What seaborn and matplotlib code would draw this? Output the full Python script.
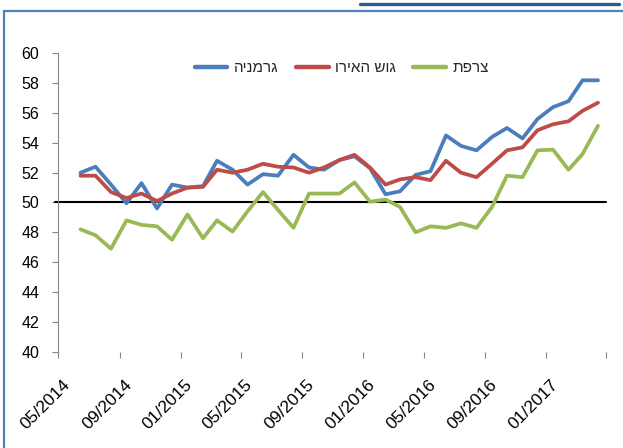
import numpy as np
import pandas as pd
import matplotlib
matplotlib.use("Agg")
import matplotlib.pyplot as plt
import matplotlib.dates as mdates
import matplotlib.transforms as mtransforms
from matplotlib.lines import Line2D
import seaborn as sns

# ---- data ----
series_names = ["גרמניה", "גוש האירו", "צרפת"]
first_month = "2014-06"
n_months = 35
germany = [52.0, 52.4, 51.2, 49.95, 51.3, 49.6, 51.2, 51.0, 51.1, 52.8,
           52.2, 51.2, 51.9, 51.8, 53.2, 52.35, 52.2, 52.85, 53.1, 52.3,
           50.55, 50.75, 51.85, 52.1, 54.5, 53.8, 53.5, 54.4, 55.0, 54.3,
           55.6, 56.4, 56.8, 58.2, 58.2]
eurozone = [51.8, 51.8, 50.7, 50.3, 50.6, 50.1, 50.6, 51.0, 51.05, 52.2,
            52.0, 52.2, 52.6, 52.4, 52.35, 52.0, 52.35, 52.85, 53.2, 52.35,
            51.2, 51.55, 51.7, 51.5, 52.8, 52.0, 51.7, 52.6, 53.5, 53.7,
            54.85, 55.25, 55.45, 56.15, 56.7]
france = [48.2, 47.8, 46.9, 48.8, 48.5, 48.4, 47.5, 49.2, 47.6, 48.8,
          48.05, 49.4, 50.7, 49.5, 48.3, 50.6, 50.6, 50.6, 51.35, 50.05,
          50.2, 49.7, 48.0, 48.4, 48.3, 48.6, 48.3, 49.7, 51.8, 51.7,
          53.5, 53.55, 52.2, 53.25, 55.15]
reference_level = 50
x_tick_labels = ["05/2014", "09/2014", "01/2015", "05/2015", "09/2015",
                 "01/2016", "05/2016", "09/2016", "01/2017", ""]
y_ticks = [40, 42, 44, 46, 48, 50, 52, 54, 56, 58, 60]

colors = ["#4A7EBB", "#BE4B48", "#98B954"]


def rtl(s):
    # matplotlib renders left-to-right; reverse for correct visual Hebrew order
    return s[::-1]


dates = pd.date_range(first_month, periods=n_months, freq="MS") + pd.Timedelta(days=14)
df = pd.concat([
    pd.DataFrame({"date": dates, "value": vals, "series": name})
    for name, vals in zip(series_names, [germany, eurozone, france])
])

sns.set_style("white")
plt.rcParams["font.family"] = ["Liberation Sans", "DejaVu Sans"]

fig = plt.figure(figsize=(6.23, 4.48), dpi=100)
ax = fig.add_axes([58 / 623, 1 - 351.5 / 448, (606 - 58) / 623, (351.5 - 53.5) / 448])

sns.lineplot(data=df, x="date", y="value", hue="series", hue_order=series_names,
             palette=colors, linewidth=2.7, legend=False, ax=ax)
ax.axhline(reference_level, color="black", linewidth=1.5, zorder=1,
           xmin=-0.005, xmax=1.0, clip_on=False)

ax.set_ylim(40, 60)
ax.set_yticks(y_ticks)
ax.set_yticklabels([str(t) for t in y_ticks])
ax.set_xlim(pd.Timestamp("2014-05-01"), pd.Timestamp("2017-05-01"))
xt = pd.date_range("2014-05-01", periods=len(x_tick_labels), freq="4MS")
ax.set_xticks(xt)
ax.set_xticklabels(x_tick_labels, rotation=45, ha="right", va="top")
ax.set_xlabel("")
ax.set_ylabel("")

for side in ["top", "right", "bottom"]:
    ax.spines[side].set_visible(False)
ax.spines["left"].set_color("#868686")
ax.spines["left"].set_linewidth(0.8)
ax.tick_params(axis="y", which="major", direction="out", length=4.5, width=0.8,
               color="#868686", pad=9, labelsize=11.5, labelcolor="black", left=True)
ax.tick_params(axis="x", which="major", direction="out", length=4.5, width=0.8,
               color="#868686", pad=14, labelsize=12.5, labelcolor="black", bottom=True)

offset = mtransforms.ScaledTranslation(15 / 100, 0, fig.dpi_scale_trans)
for lbl in ax.get_xticklabels():
    lbl.set_transform(lbl.get_transform() + offset)

handles = [Line2D([0], [0], color=c, linewidth=3.2) for c in colors]
leg = ax.legend(handles, [rtl(s) for s in series_names], ncol=3, loc="center",
                bbox_to_anchor=(0.518, 0.951), frameon=False, fontsize=11,
                handlelength=2.15, handletextpad=0.45, columnspacing=1.1)

# decorative frame of the original document
fig.add_artist(Line2D([4 / 623, 4 / 623], [0, 1 - 11 / 448], transform=fig.transFigure,
                      color="#4F81BD", linewidth=1.6))
fig.add_artist(Line2D([4 / 623, 1], [1 - 11 / 448, 1 - 11 / 448], transform=fig.transFigure,
                      color="#4F81BD", linewidth=1.6))
fig.add_artist(Line2D([360 / 623, 619 / 623], [1 - 4 / 448, 1 - 4 / 448], transform=fig.transFigure,
                      color="#2E5C8A", linewidth=2.4))

fig.savefig("out.png", dpi=100)
